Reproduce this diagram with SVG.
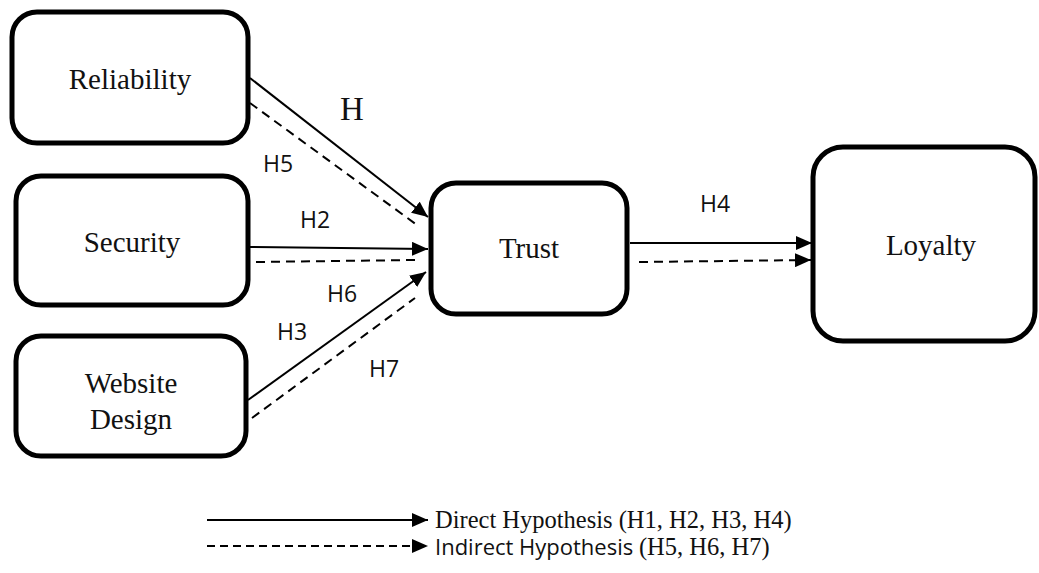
<svg xmlns="http://www.w3.org/2000/svg" width="1039" height="573" viewBox="0 0 1039 573">
<style>
.box{fill:#fff;stroke:#000;stroke-width:5}
.lbl{font-family:"Liberation Serif","Times New Roman",serif;font-size:29px;fill:#111;text-anchor:middle}
.h{font-family:"Open Sans","Liberation Sans",sans-serif;font-size:23px;fill:#111;text-anchor:middle}
.sol{stroke:#000;stroke-width:2;fill:none}
.dash{stroke:#000;stroke-width:2;fill:none;stroke-dasharray:9,6}
.leg{font-family:"Liberation Serif","Times New Roman",serif;font-size:24.5px;fill:#111}
.legs{font-family:"Open Sans","Liberation Sans",sans-serif;font-size:22px;fill:#111}
</style>
<defs>
<marker id="ah" markerUnits="userSpaceOnUse" markerWidth="16" markerHeight="14" refX="16" refY="7" orient="auto">
<path d="M0,0 L16,7 L0,14 z" fill="#000"/>
</marker>
</defs>
<rect width="1039" height="573" fill="#fff"/>
<g id="connectors">
<line class="sol" x1="250" y1="78" x2="428" y2="217" marker-end="url(#ah)"/>
<line class="dash" x1="250" y1="103" x2="417" y2="225"/>
<line class="sol" x1="247" y1="247" x2="428" y2="249" marker-end="url(#ah)"/>
<line class="dash" x1="256" y1="262" x2="415" y2="260"/>
<line class="sol" x1="248" y1="400" x2="426" y2="272" marker-end="url(#ah)"/>
<line class="dash" x1="252" y1="418" x2="415" y2="298"/>
<line class="sol" x1="630" y1="243" x2="812" y2="243" marker-end="url(#ah)"/>
<line class="dash" x1="639" y1="262" x2="811" y2="260" marker-end="url(#ah)"/>
<text class="lbl" x="352" y="120" style="font-size:33px">H</text>
<text class="h" x="278" y="172">H5</text>
<text class="h" x="315" y="228">H2</text>
<text class="h" x="342" y="302">H6</text>
<text class="h" x="292" y="340">H3</text>
<text class="h" x="384" y="377">H7</text>
<text class="h" x="715" y="212">H4</text>
</g>
<g id="reliability"><rect class="box" x="12" y="12" width="236" height="131" rx="25"/><text class="lbl" x="130" y="89">Reliability</text></g>
<g id="security"><rect class="box" x="16" y="176" width="232" height="129" rx="25"/><text class="lbl" x="132" y="252">Security</text></g>
<g id="website-design"><rect class="box" x="16" y="336" width="230" height="120" rx="25"/><text class="lbl" x="131" y="393">Website</text><text class="lbl" x="131" y="429">Design</text></g>
<g id="trust"><rect class="box" x="431" y="183" width="196" height="131" rx="25"/><text class="lbl" x="529" y="258">Trust</text></g>
<g id="loyalty"><rect class="box" x="813" y="147" width="222" height="194" rx="30"/><text class="lbl" x="931" y="255">Loyalty</text></g>
<g id="legend">
<line class="sol" x1="207" y1="520" x2="428" y2="520" marker-end="url(#ah)"/>
<line class="dash" x1="207" y1="546" x2="428" y2="546" style="stroke-dasharray:8,5" marker-end="url(#ah)"/>
<text class="leg" x="435" y="528">Direct Hypothesis (H1, H2, H3, H4)</text>
<text x="435" y="555"><tspan class="legs">Indirect Hypothesis </tspan><tspan class="leg">(H5, H6, H7)</tspan></text>
</g>
</svg>
